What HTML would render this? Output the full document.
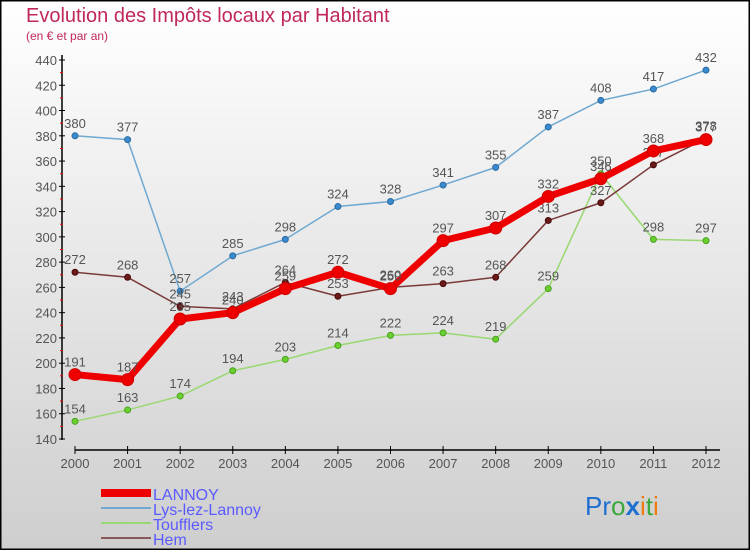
<!DOCTYPE html>
<html><head><meta charset="utf-8"><style>
body{margin:0}
svg text{font-family:"Liberation Sans",sans-serif}
</style></head><body>
<svg width="750" height="550" viewBox="0 0 750 550" xmlns="http://www.w3.org/2000/svg">
<defs><linearGradient id="bg" x1="0" y1="0" x2="0" y2="1"><stop offset="0" stop-color="#ffffff"/><stop offset="1" stop-color="#cecece"/></linearGradient></defs>
<rect x="0.5" y="0.5" width="749" height="549" fill="url(#bg)" stroke="#000" stroke-width="2"/>
<text x="26" y="22" font-size="20" fill="#c0285a">Evolution des Impôts locaux par Habitant</text>
<text x="26" y="40" font-size="12" fill="#c0285a">(en € et par an)</text>
<g id="axes"></g>
<g id="series"></g>
<g>
<rect x="101" y="489" width="50" height="8" fill="#e00"/>
<text x="153" y="500" font-size="16" fill="#5a5aff">LANNOY</text>
<rect x="101" y="507" width="50" height="2" fill="#6fa8d0"/>
<text x="153" y="515" font-size="16" fill="#5a5aff">Lys-lez-Lannoy</text>
<rect x="101" y="522" width="50" height="2" fill="#99d870"/>
<text x="153" y="530" font-size="16" fill="#5a5aff">Toufflers</text>
<rect x="101" y="537" width="50" height="2" fill="#8a5a5a"/>
<text x="153" y="545" font-size="16" fill="#5a5aff">Hem</text>
</g>
<text x="585" y="515" font-size="26"><tspan fill="#1e6fd0">Pr</tspan><tspan fill="#3aa83a">o</tspan><tspan fill="#1e6fd0" font-weight="bold">x</tspan><tspan fill="#f07a10">i</tspan><tspan fill="#3aa83a">t</tspan><tspan fill="#f07a10">i</tspan></text>
</svg>
<script>
const years=[2000,2001,2002,2003,2004,2005,2006,2007,2008,2009,2010,2011,2012];
const yTicks=[140,160,180,200,220,240,260,280,300,320,340,360,380,400,420,440];
const lannoy=[191,187,235,240,259,272,259,297,307,332,346,368,377];
const lys=[380,377,257,285,298,324,328,341,355,387,408,417,432];
const toufflers=[154,163,174,194,203,214,222,224,219,259,350,298,297];
const hem=[272,268,245,243,264,253,260,263,268,313,327,357,378];
const NS="http://www.w3.org/2000/svg";
const xS=i=>75+i*(706-75)/12;
const yS=v=>439-(v-140)*(379/300);
function mk(tag,attrs,parent){const e=document.createElementNS(NS,tag);for(const k in attrs)e.setAttribute(k,attrs[k]);parent.appendChild(e);return e;}
const ax=document.getElementById('axes');
let yl=mk('line',{x1:62,y1:55,x2:62,y2:440,stroke:'#000','stroke-width':1.5},ax);


let xl=mk('line',{x1:75,y1:450,x2:720,y2:450,stroke:'#000','stroke-width':1.5},ax);


yTicks.forEach((v,i)=>{
  const y=yS(v);
  mk('line',{x1:59,y1:y,x2:65,y2:y,stroke:'#000'},ax);
  if(i<yTicks.length-1) mk('line',{x1:60,y1:yS(v+10),x2:63,y2:yS(v+10),stroke:'#e00'},ax);
  const t=mk('text',{x:57,y:y+5,'font-size':13,fill:'#555','text-anchor':'end'},ax);
  t.textContent=v;
  
  
});
years.forEach((yr,i)=>{
  const x=xS(i);
  mk('line',{x1:x,y1:446,x2:x,y2:454,stroke:'#000'},ax);
  const t=mk('text',{x:x,y:468,'font-size':13,fill:'#555','text-anchor':'middle'},ax);
  t.textContent=yr;
  
  
});
const sg=document.getElementById('series');
function series(name,data,color,w,r,dot,dotStroke){
  const g=mk('g',{},sg);
  
  
  const p=mk('polyline',{points:data.map((v,i)=>xS(i)+','+yS(v)).join(' '),fill:'none',stroke:color,'stroke-width':w,'stroke-linejoin':'round'},g);
  
  
  data.forEach((v,i)=>{
    const c=mk('circle',{cx:xS(i),cy:yS(v),r:r,fill:dot,stroke:dotStroke,'stroke-width':1},g);
    
    
    const t=mk('text',{x:xS(i),y:yS(v)-8,'font-size':13,fill:'#555','text-anchor':'middle'},g);
    t.textContent=v;
    
    
  });
}
series('lys',lys,'#6fa8d0',1.5,3,'#3a8ad0','#2a6aa0');
series('toufflers',toufflers,'#99d870',1.5,3,'#6ad030','#4aa020');
series('hem',hem,'#7a3a3a',1.5,3,'#6a1a1a','#4a0a0a');
series('lannoy',lannoy,'#ee0000',7,6,'#ee0000','#cc0000');
</script>
</body></html>
